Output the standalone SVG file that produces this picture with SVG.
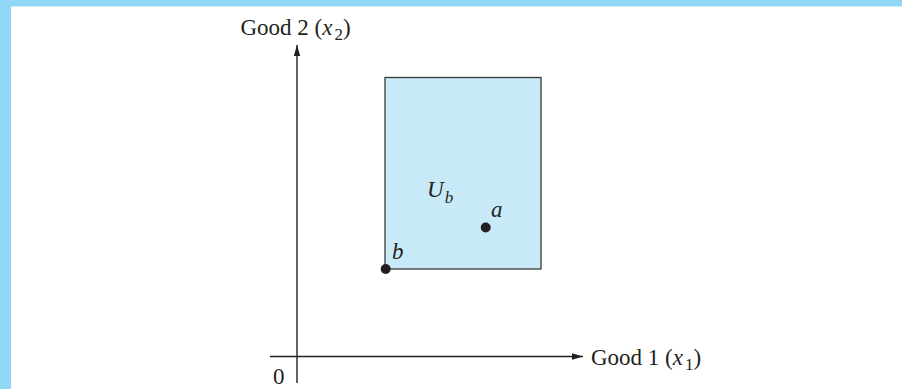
<svg xmlns="http://www.w3.org/2000/svg" width="902" height="389" viewBox="0 0 902 389">
<style>
.t{font-family:"Liberation Serif","Times New Roman",serif;font-size:23px;fill:#231f20}
.i{font-style:italic}
.s{font-size:17px}
.ax{stroke:#231f20;stroke-width:1.4;fill:none}
</style>
<defs>
<marker id="ah" markerWidth="12" markerHeight="8" refX="11" refY="4" orient="auto" markerUnits="userSpaceOnUse">
<path d="M0,0.8 L11,4 L0,7.2 Z" fill="#231f20"/>
</marker>
</defs>
<rect x="0" y="0" width="902" height="389" fill="#ffffff"/>
<rect x="0" y="0" width="902" height="6.5" fill="#8fd9f7"/>
<rect x="0" y="0" width="11" height="389" fill="#8fd9f7"/>
<g id="connectors">
<line class="ax" x1="297" y1="383" x2="297" y2="45" marker-end="url(#ah)"/>
<line class="ax" x1="270" y1="356.5" x2="583" y2="356.5" marker-end="url(#ah)"/>
</g>
<g id="region-Ub">
<rect x="385" y="77.5" width="156" height="191.5" fill="#c8e9f8" stroke="#3a3a3a" stroke-width="1.3"/>
<text class="t i" x="427" y="197">U<tspan class="s" dx="1" dy="6">b</tspan></text>
</g>
<g id="point-a">
<circle cx="485.7" cy="227.5" r="5" fill="#231f20"/>
<text class="t i" x="491" y="217">a</text>
</g>
<g id="point-b">
<circle cx="385.7" cy="269" r="5" fill="#231f20"/>
<text class="t i" x="392" y="259">b</text>
</g>
<g id="labels">
<text class="t" x="240.5" y="34.5">Good 2 (<tspan class="i">x</tspan><tspan class="s" dx="2" dy="5">2</tspan><tspan dy="-5">)</tspan></text>
<text class="t" x="591" y="365">Good 1 (<tspan class="i">x</tspan><tspan class="s" dx="2" dy="5">1</tspan><tspan dy="-5">)</tspan></text>
<text class="t" x="273" y="384">0</text>
</g>
</svg>
